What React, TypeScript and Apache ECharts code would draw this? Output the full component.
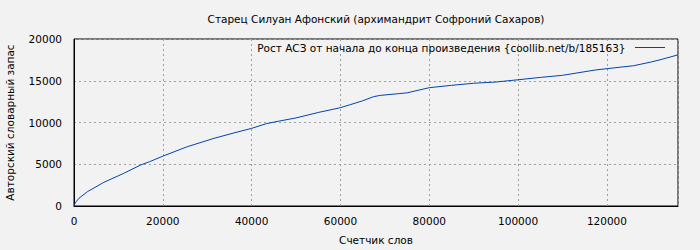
import React, { useEffect, useRef } from "react";
import * as echarts from "echarts";

const titleText = "Старец Силуан Афонский (архимандрит Софроний Сахаров)";
const seriesName = "Рост АСЗ от начала до конца произведения {coollib.net/b/185163}";
const xName = "Счетчик слов";
const yName = "Авторский словарный запас";

const wordCounts = [0, 300, 1100, 3000, 6700, 11200, 15000, 17000, 20100, 25500, 31500, 36000, 40000, 43300, 46000, 50000, 55000, 59800, 62000, 65000, 67500, 69000, 73000, 75000, 80000, 85000, 90000, 95000, 99500, 105000, 110000, 117400, 123400, 126000, 130000, 132400, 136000];
const vocab = [0, 400, 920, 1710, 2830, 3910, 4910, 5300, 5990, 7100, 8100, 8750, 9300, 9860, 10150, 10550, 11200, 11750, 12100, 12600, 13100, 13250, 13450, 13550, 14170, 14450, 14700, 14850, 15090, 15400, 15650, 16290, 16650, 16800, 17250, 17570, 18100];

export default function App() {
  const ref = useRef<HTMLDivElement>(null);
  useEffect(() => {
    const chart = echarts.init(ref.current!, null, { renderer: "svg" });
    const font = "DejaVu Sans";
    const fs = 10.5;
    chart.setOption({
      animation: false,
      backgroundColor: "#f2f2f2",
      textStyle: { fontFamily: font },
      graphic: [
        {
          type: "text",
          x: 376,
          y: 19,
          style: {
            text: titleText,
            fontFamily: font,
            fontSize: fs,
            fill: "#000",
            align: "center",
            verticalAlign: "middle",
          },
        },
      ],
      legend: {
        show: true,
        right: 30,
        top: 37,
        align: "right",
        itemWidth: 31,
        itemGap: 10,
        icon: "path://M0,0L30,0L30,1L0,1Z",
        itemHeight: 1,
        textStyle: { fontFamily: font, fontSize: fs, color: "#000", padding: [0, 4, 0, 0] },
        data: [{ name: seriesName }],
      },
      grid: {
        left: 74,
        right: 22,
        top: 39,
        bottom: 44,
        outerBoundsMode: "none",
        containLabel: false,
        show: true,
        borderColor: "#000",
        borderWidth: 1,
      },
      xAxis: {
        type: "value",
        min: 0,
        max: 136000,
        interval: 20000,
        name: xName,
        nameLocation: "middle",
        nameGap: 28,
        nameMoveOverlap: false,
        nameTextStyle: { fontFamily: font, fontSize: fs, color: "#000" },
        axisLine: { show: true, lineStyle: { color: "#000" } },
        axisTick: { show: false },
        axisLabel: {
          fontFamily: font,
          fontSize: fs,
          color: "#000",
          margin: 9,
          showMaxLabel: false,
          formatter: (v: number) => String(v),
        },
        splitLine: { show: true, lineStyle: { color: "#a0a0a0", type: [2, 3] } },
      },
      yAxis: {
        type: "value",
        min: 0,
        max: 20000,
        interval: 5000,
        name: yName,
        nameLocation: "middle",
        nameGap: 59,
        nameMoveOverlap: false,
        nameTextStyle: { fontFamily: font, fontSize: fs, color: "#000" },
        axisLine: { show: true, lineStyle: { color: "#000" } },
        axisTick: { show: false },
        axisLabel: {
          fontFamily: font,
          fontSize: fs,
          color: "#000",
          margin: 12,
          formatter: (v: number) => String(v),
        },
        splitLine: { show: true, lineStyle: { color: "#a0a0a0", type: [2, 3] } },
      },
      series: [
        {
          name: seriesName,
          type: "line",
          data: wordCounts.map((x, i) => [x, vocab[i]]),
          showSymbol: false,
          symbol: "none",
          lineStyle: { color: "#0044aa", width: 1 },
          itemStyle: { color: "#0044aa" },
        },
      ],
    });
    return () => chart.dispose();
  }, []);
  return <div ref={ref} style={{ width: 700, height: 250, position: "absolute", left: 0, top: 0 }} />;
}
